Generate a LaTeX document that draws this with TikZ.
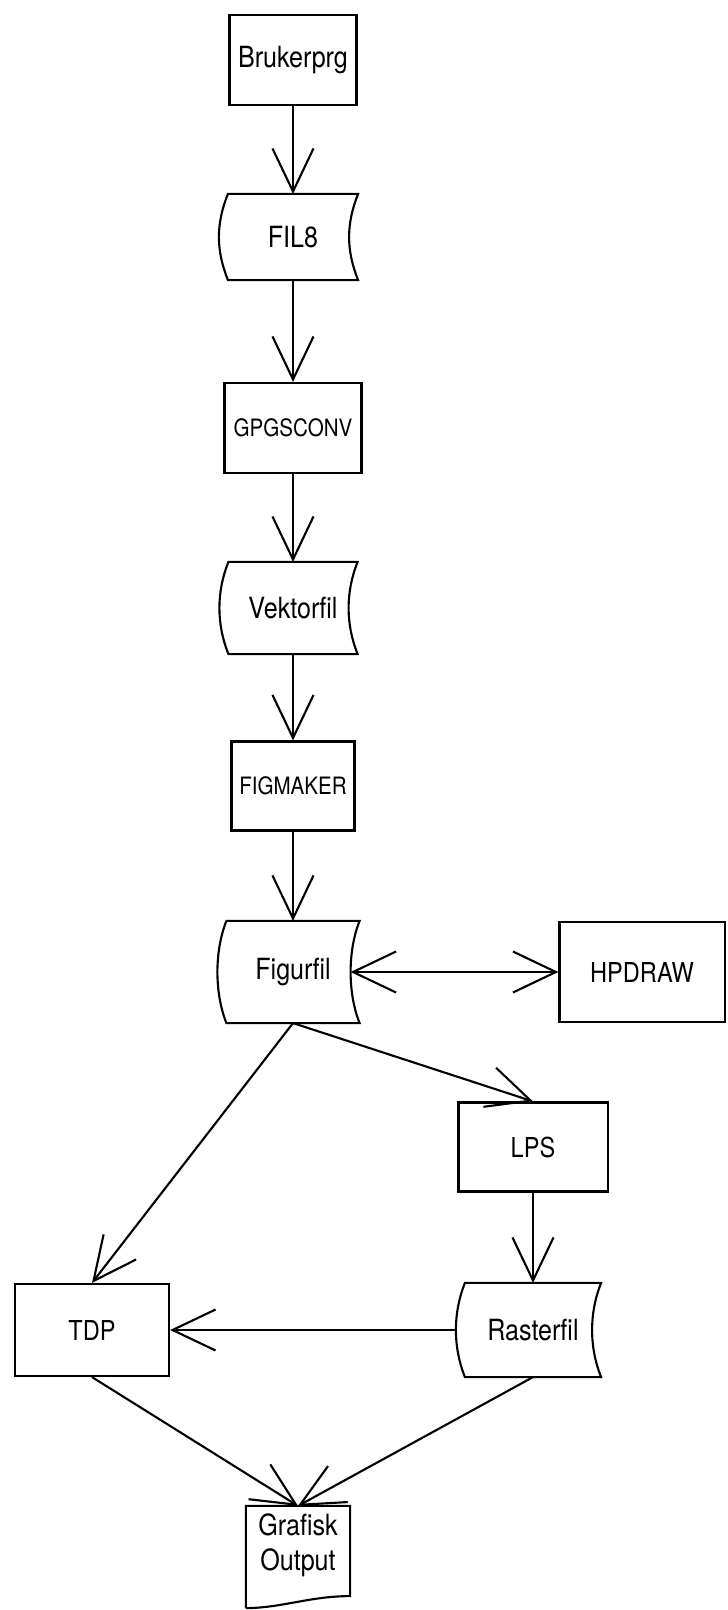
\documentclass[tikz,border=0pt]{standalone}
\usepackage{fontspec}
\setmainfont{TeX Gyre Heros}[FakeStretch=0.86]
\usetikzlibrary{arrows.meta}

% omriss for en fil: begge sidene buer mot venstre
\newcommand{\filkant}[1]{%
  \draw (#1.north west) .. controls +(-0.12cm,-0.3cm) and +(-0.12cm,0.3cm) .. (#1.south west)
    -- (#1.south east) .. controls +(-0.12cm,0.3cm) and +(-0.12cm,-0.3cm) .. (#1.north east) -- cycle;}

\begin{document}
\begin{tikzpicture}[x=0.01cm, y=-0.01cm, line width=0.6pt,
        >={Straight Barb[length=0.43cm, width=0.41cm]},
        every node/.style={inner sep=0pt, font=\fontsize{8.3}{10}\selectfont},
        prg/.style={draw, rectangle},
        liten/.style={font=\fontsize{6.8}{8}\selectfont},
        mellom/.style={font=\fontsize{7.8}{9}\selectfont}]
        \useasboundingbox (0,0) rectangle (727,1610);

        \node[prg, minimum width=1.27cm, minimum height=0.90cm] (bruker) at (293, 60) {Brukerprg};
        \node[minimum width=1.28cm, minimum height=0.84cm] (fil8) at (293, 237) {FIL8};
        \node[prg, liten, minimum width=1.37cm, minimum height=0.90cm] (gpgs) at (293, 428) {GPGSCONV};
        \node[minimum width=1.27cm, minimum height=0.90cm] (vektor) at (293, 608) {Vektorfil};
        \node[prg, liten, minimum width=1.23cm, minimum height=0.89cm] (figmaker) at (293, 786) {FIGMAKER};
        \node[minimum width=1.31cm, minimum height=1.00cm] (figurfil) at (293, 972) {Figurfil};
        \node[prg, mellom, minimum width=1.65cm, minimum height=1.00cm] (hpdraw) at (642, 972) {HPDRAW};
        \node[prg, mellom, minimum width=1.49cm, minimum height=0.89cm] (lps) at (533, 1147) {LPS};
        \node[prg, mellom, minimum width=1.54cm, minimum height=0.92cm] (tdp) at (92, 1330) {TDP};
        \node[minimum width=1.34cm, minimum height=0.92cm] (raster) at (533, 1330) {Rasterfil};
        \node[align=center, minimum width=1.02cm, minimum height=0.76cm] (grafisk) at (298, 1545) {Grafisk\\Output};

        \filkant{fil8}
        \filkant{vektor}
        \filkant{figurfil}
        \filkant{raster}
        \draw ([yshift=-0.24cm]grafisk.south west) -- (grafisk.north west) -- (grafisk.north east)
            -- ([yshift=-0.12cm]grafisk.south east)
            .. controls +(-0.4cm,0cm) and +(0.35cm,0cm) .. ([yshift=-0.24cm]grafisk.south west);

        \draw[->] (bruker) -- (fil8);
        \draw[->] (fil8) -- (gpgs);
        \draw[->] (gpgs) -- (vektor);
        \draw[->] (vektor) -- (figmaker);
        \draw[->] (figmaker) -- (figurfil);
        \draw[<->] ([xshift=-0.09cm]figurfil.east) -- (hpdraw.west);
        \draw[->] (figurfil.south) -- (tdp.north);
        \draw[->] (figurfil.south) -- (lps.north);
        \draw[->] (lps) -- (raster);
        \draw[->] ([xshift=-0.09cm]raster.west) -- (tdp.east);
        \draw[->] (tdp.south) -- (grafisk.north);
        \draw[->] (raster.south) -- (grafisk.north);
    \end{tikzpicture}
\end{document}
